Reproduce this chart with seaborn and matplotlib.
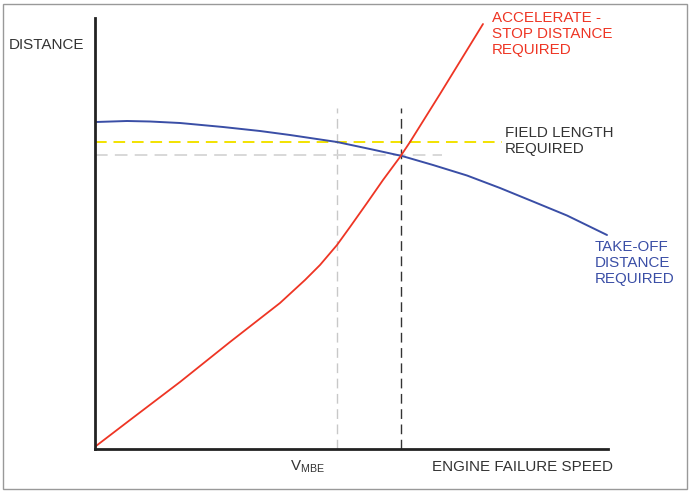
import matplotlib
matplotlib.use("Agg")
import matplotlib.pyplot as plt
import seaborn as sns
import pandas as pd
from matplotlib.patches import Rectangle

# ---- data (chart units: speed / distance, arbitrary) ----
asd_speed = [1, 35, 85, 135, 185, 210, 225, 242, 255, 272, 288, 305, 315, 345, 388]
asd_dist = [3, 29, 67, 107, 146, 169, 184, 204, 222, 246, 269, 292, 307, 355, 425]

tod_speed = [1, 32, 55, 85, 128, 165, 195, 242, 275, 307, 338, 372, 405, 438, 472, 512]
tod_dist = [327, 328, 327.5, 326, 322, 318, 314, 307, 300, 293, 284, 273.5, 261, 247.5, 233.5, 214]

field_length = 307
balanced_dist = 294
vmbe_speed = 242
balanced_speed = 306

sns.set_theme(style="white")
plt.rcParams['font.family'] = ['Liberation Sans', 'DejaVu Sans']

W, H = 691, 493
fig = plt.figure(figsize=(W / 100, H / 100), dpi=100)
ax = fig.add_axes([95 / W, (H - 449) / H, 513 / W, 431 / H])
ax.set_xlim(0, 513)
ax.set_ylim(0, 431)

red = "#ee3524"
blue = "#3a4ea6"
yellow = "#f2e200"
txt = "#333333"

asd = pd.DataFrame({"speed": asd_speed, "dist": asd_dist})
tod = pd.DataFrame({"speed": tod_speed, "dist": tod_dist})

# reference dashed lines
ax.plot([vmbe_speed, vmbe_speed], [0, 341], color="#c8c8c8", lw=1.0, ls=(0, (7, 4)))
ax.plot([0, 347], [balanced_dist, balanced_dist], color="#d6d6d6", lw=1.3, ls=(0, (7, 4)))
ax.plot([0, 407], [field_length, field_length], color=yellow, lw=1.4, ls=(0, (6, 3.5)))
ax.plot([balanced_speed, balanced_speed], [0, 341], color="#333333", lw=1.0, ls=(0, (7, 4)))

sns.lineplot(data=tod, x="speed", y="dist", ax=ax, color=blue, lw=1.4, sort=False,
             solid_joinstyle="round")
sns.lineplot(data=asd, x="speed", y="dist", ax=ax, color=red, lw=1.3, sort=False,
             solid_joinstyle="round")

for s in ["top", "right"]:
    ax.spines[s].set_visible(False)
for s in ["left", "bottom"]:
    ax.spines[s].set_color("#222222")
    ax.spines[s].set_linewidth(2.0)
ax.set_xticks([])
ax.set_yticks([])
ax.set_xlabel("")
ax.set_ylabel("")
ax.patch.set_alpha(0)

fs = 10.9
def ftext(x, y, s, color=txt, ls=1.15, **kw):
    fig.text(x / W, 1 - y / H, s, color=color, fontsize=fs, va="center", ha="left",
             linespacing=ls, **kw)

ftext(9, 45, "DISTANCE")
ftext(432, 467, "ENGINE FAILURE SPEED")
ftext(290, 467, r"V$_{\mathregular{MBE}}$")
ftext(492, 34, "ACCELERATE -\nSTOP DISTANCE\nREQUIRED", color=red, ls=1.2)
ftext(505, 141, "FIELD LENGTH\nREQUIRED")
ftext(595, 263, "TAKE-OFF\nDISTANCE\nREQUIRED", color=blue, ls=1.2)

fig.patches.append(Rectangle((3 / W, 4 / H), 684 / W, 485 / H, transform=fig.transFigure,
                             fill=False, edgecolor="#999999", lw=1.0))

fig.savefig("out.png", dpi=100)
